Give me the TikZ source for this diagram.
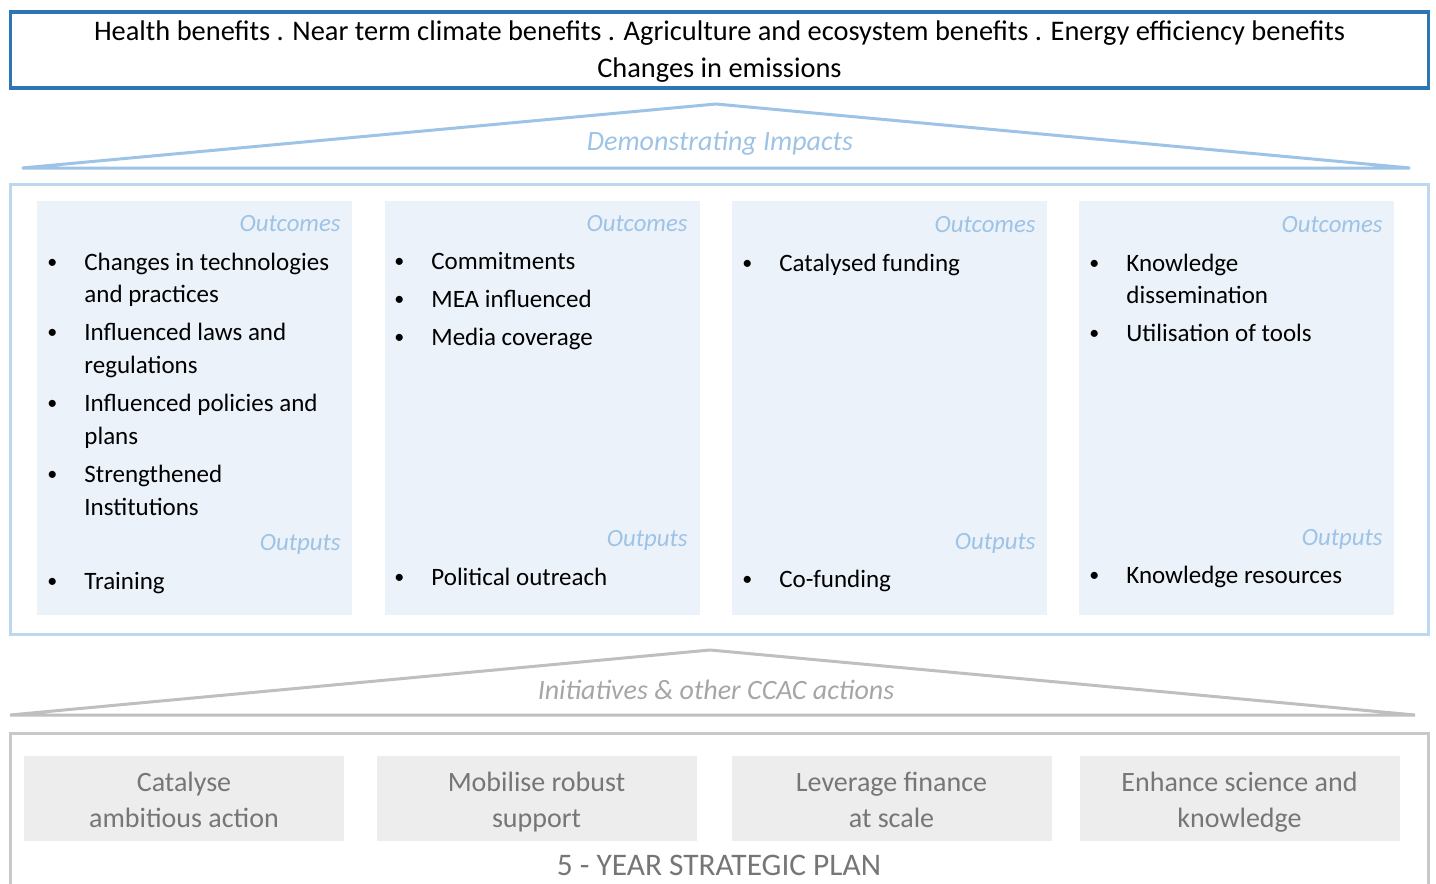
\documentclass[tikz,border=0pt]{standalone}
\usepackage{fontspec}
\setmainfont{Carlito}
\usepackage{tikz}

\definecolor{topblue}{RGB}{46,117,182}
\definecolor{roofblue}{RGB}{157,195,230}
\definecolor{frameblue}{RGB}{189,215,238}
\definecolor{panelfill}{RGB}{235,242,250}
\definecolor{roofgray}{RGB}{191,191,191}
\definecolor{framegray}{RGB}{200,200,200}
\definecolor{labelgray}{RGB}{166,166,166}
\definecolor{boxfill}{RGB}{237,237,237}
\definecolor{boxtext}{RGB}{118,118,118}

\newcommand{\bodyfont}{\fontsize{12.5}{16.4}\selectfont}
\newcommand{\dotmark}{\raisebox{1pt}{\fontsize{10}{10}\selectfont\textbullet}}
\newcommand{\twolines}[3]{\rule{0pt}{#1}#2\\#3\strut}

\tikzset{
  panel/.style={fill=panelfill, minimum width=157.5pt, minimum height=207pt, inner sep=0pt},
  plan/.style={fill=boxfill, minimum width=160pt, minimum height=42.5pt, inner sep=0pt,
    align=center, text=boxtext, font=\fontsize{14}{18}\selectfont},
  tag/.style={anchor=base east, text=roofblue, font=\fontsize{12.4}{14}\selectfont\itshape, inner sep=0pt},
  items/.style={anchor=base west, inner sep=0pt, font=\bodyfont}
}

\begin{document}
\begin{tikzpicture}[x=0.5pt,y=-0.5pt]
\useasboundingbox (0,0) rectangle (1436,884);
\clip (0,0) rectangle (1436,884);

% the top box
\node [draw=topblue, line width=1.7pt, minimum width=709pt, minimum height=37.5pt, inner sep=0pt,
  align=center, font=\fontsize{14.2}{18.5}\selectfont] (benefits) at (719.5,50)
  {\twolines{14.05pt}{Health benefits . Near term climate benefits . Agriculture and ecosystem benefits . Energy efficiency benefits}{Changes in emissions}};

% the upper roof
\draw [roofblue, line width=1.5pt] (22,168)--(716,104)--(1410,168)--cycle;
\node [text=roofblue, font=\fontsize{14}{16}\selectfont\itshape] (impacts) at (720,143) {Demonstrating Impacts};

% the middle frame and its four panels
\node [draw=frameblue, line width=1.5pt, minimum width=709pt, minimum height=225pt] (frame) at (719.5,409.5) {};
\node [panel] (p1) at (194.5,408) {};
\node [panel] (p2) at (542,408) {};
\node [panel] (p3) at (889.5,408) {};
\node [panel] (p4) at (1236.5,408) {};

% the labels
\node [tag] (oc1) at (341,231) {Outcomes};
\node [tag] (oc2) at (688,231) {Outcomes};
\node [tag] (oc3) at (1036,232) {Outcomes};
\node [tag] (oc4) at (1383,232) {Outcomes};
\node [tag] (op1) at (341,550) {Outputs};
\node [tag] (op2) at (688,546) {Outputs};
\node [tag] (op3) at (1036,549) {Outputs};
\node [tag] (op4) at (1383,545) {Outputs};

% the first panel
\node [items] (l1) at (47,270) {\begin{tabular}[t]{@{}p{18.5pt}@{}l@{}}
  \dotmark & Changes in technologies\\
           & and practices\\[2.6pt]
  \dotmark & Influenced laws and\\
           & regulations\\[2.6pt]
  \dotmark & Influenced policies and\\
           & plans\\[2.6pt]
  \dotmark & Strengthened\\
           & Institutions
\end{tabular}};
\node [items] (t1) at (47,589) {\begin{tabular}[t]{@{}p{18.5pt}@{}l@{}}
  \dotmark & Training
\end{tabular}};

% the second panel
\node [items] (l2) at (394,269) {\begin{tabular}[t]{@{}p{18.5pt}@{}l@{}}
  \dotmark & Commitments\\[2.6pt]
  \dotmark & MEA influenced\\[2.6pt]
  \dotmark & Media coverage
\end{tabular}};
\node [items] (t2) at (394,585) {\begin{tabular}[t]{@{}p{18.5pt}@{}l@{}}
  \dotmark & Political outreach
\end{tabular}};

% the third panel
\node [items] (l3) at (742,271) {\begin{tabular}[t]{@{}p{18.5pt}@{}l@{}}
  \dotmark & Catalysed funding
\end{tabular}};
\node [items] (t3) at (742,587) {\begin{tabular}[t]{@{}p{18.5pt}@{}l@{}}
  \dotmark & Co-funding
\end{tabular}};

% the fourth panel
\node [items] (l4) at (1089,271) {\begin{tabular}[t]{@{}p{18.5pt}@{}l@{}}
  \dotmark & Knowledge\\
           & dissemination\\[2.6pt]
  \dotmark & Utilisation of tools
\end{tabular}};
\node [items] (t4) at (1089,583) {\begin{tabular}[t]{@{}p{18.5pt}@{}l@{}}
  \dotmark & Knowledge resources
\end{tabular}};

% the lower roof
\draw [roofgray, line width=1.5pt] (10,715)--(710,650)--(1415,715)--cycle;
\node [text=labelgray, font=\fontsize{14}{16}\selectfont\itshape] (actions) at (716,690) {Initiatives \& other CCAC actions};

% the strategic plan
\draw [framegray, line width=1.5pt] (10.5,733.5) rectangle (1428.5,950);
\node [plan] (g1) at (184,798.5) {\twolines{15.9pt}{Catalyse}{ambitious action}};
\node [plan] (g2) at (536.5,798.5) {\twolines{15.9pt}{Mobilise robust}{support}};
\node [plan] (g3) at (891.5,798.5) {\twolines{15.9pt}{Leverage finance}{at scale}};
\node [plan] (g4) at (1239.5,798.5) {\twolines{15.9pt}{Enhance science and}{knowledge}};
\node [text=boxtext, font=\fontsize{15.7}{18}\selectfont] (fiveyear) at (719,865) {5 - YEAR STRATEGIC PLAN};

\end{tikzpicture}
\end{document}
